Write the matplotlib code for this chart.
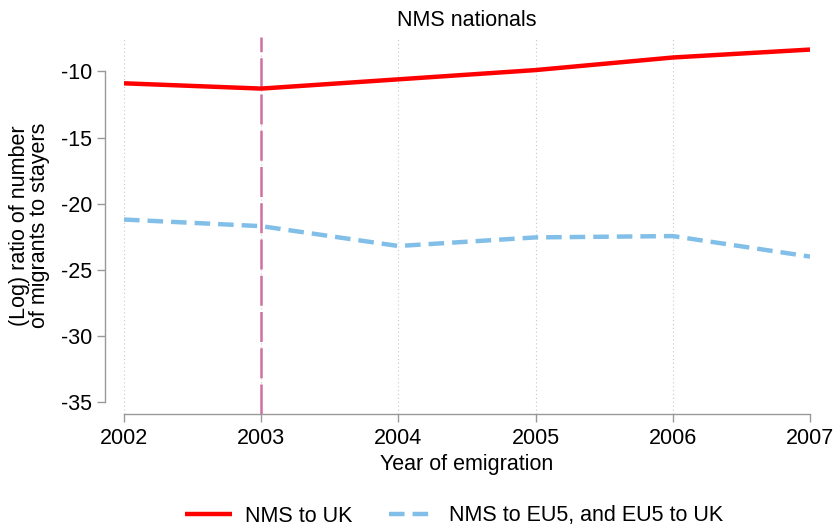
import matplotlib
matplotlib.use("Agg")
import matplotlib.pyplot as plt

plt.rcParams['font.family'] = ['Liberation Sans', 'DejaVu Sans']
plt.rcParams['axes.unicode_minus'] = False

years = [2002, 2003, 2004, 2005, 2006, 2007]
nms_uk = [-10.9, -11.3, -10.6, -9.9, -8.95, -8.35]
nms_eu5_uk = [-21.2, -21.7, -23.2, -22.55, -22.45, -24.0]
yticks = [-10, -15, -20, -25, -30, -35]
policy_year = 2003

FS = 15.5

fig = plt.figure(figsize=(8.36, 5.27), dpi=100)
ax = fig.add_axes([124/836, 1-414/527, (810-124)/836, (414-37)/527])

ax.set_xlim(2002, 2007)
ax.set_ylim(-35.9, -7.4)

for x in years:
    ax.axvline(x, color='#c8c8c8', lw=0.8, ls=(0, (1, 2.5)), zorder=0)

ax.axvline(policy_year, color='#d070a0', lw=1.8, ls=(0, (12, 2.5)), zorder=1)

l1, = ax.plot(years, nms_uk, color='#ff0000', lw=3.2, solid_capstyle='butt', label='NMS to UK', zorder=3)
l2, = ax.plot(years, nms_eu5_uk, color='#82bfe8', lw=3.2, ls=(0, (3.5, 1.8)), label='NMS to EU5, and EU5 to UK', zorder=3)

ax.set_xticks(years)
ax.set_yticks(yticks)
ax.tick_params(axis='both', colors='#999999', labelcolor='black', labelsize=FS, length=6, width=1)
ax.tick_params(axis='x', pad=4)
ax.tick_params(axis='y', pad=3)

for s in ['top', 'right']:
    ax.spines[s].set_visible(False)
ax.spines['left'].set_position(('outward', 14))
ax.spines['left'].set_bounds(-35, -10)
ax.spines['bottom'].set_bounds(2002, 2007)
for s in ['left', 'bottom']:
    ax.spines[s].set_color('#999999')
    ax.spines[s].set_linewidth(1)

ax.set_title('NMS nationals', fontsize=FS, pad=8)
ax.set_xlabel('Year of emigration', fontsize=FS, labelpad=4)
ax.set_ylabel('(Log) ratio of number\nof migrants to stayers', fontsize=FS, labelpad=8, linespacing=0.9)

fig.legend(handles=[l1, l2], loc='center', bbox_to_anchor=(454/836, 1-516/527), ncol=2,
           frameon=False, fontsize=FS, handlelength=2.2, columnspacing=1.7, handletextpad=0.6)

fig.savefig('out.png', dpi=100)
